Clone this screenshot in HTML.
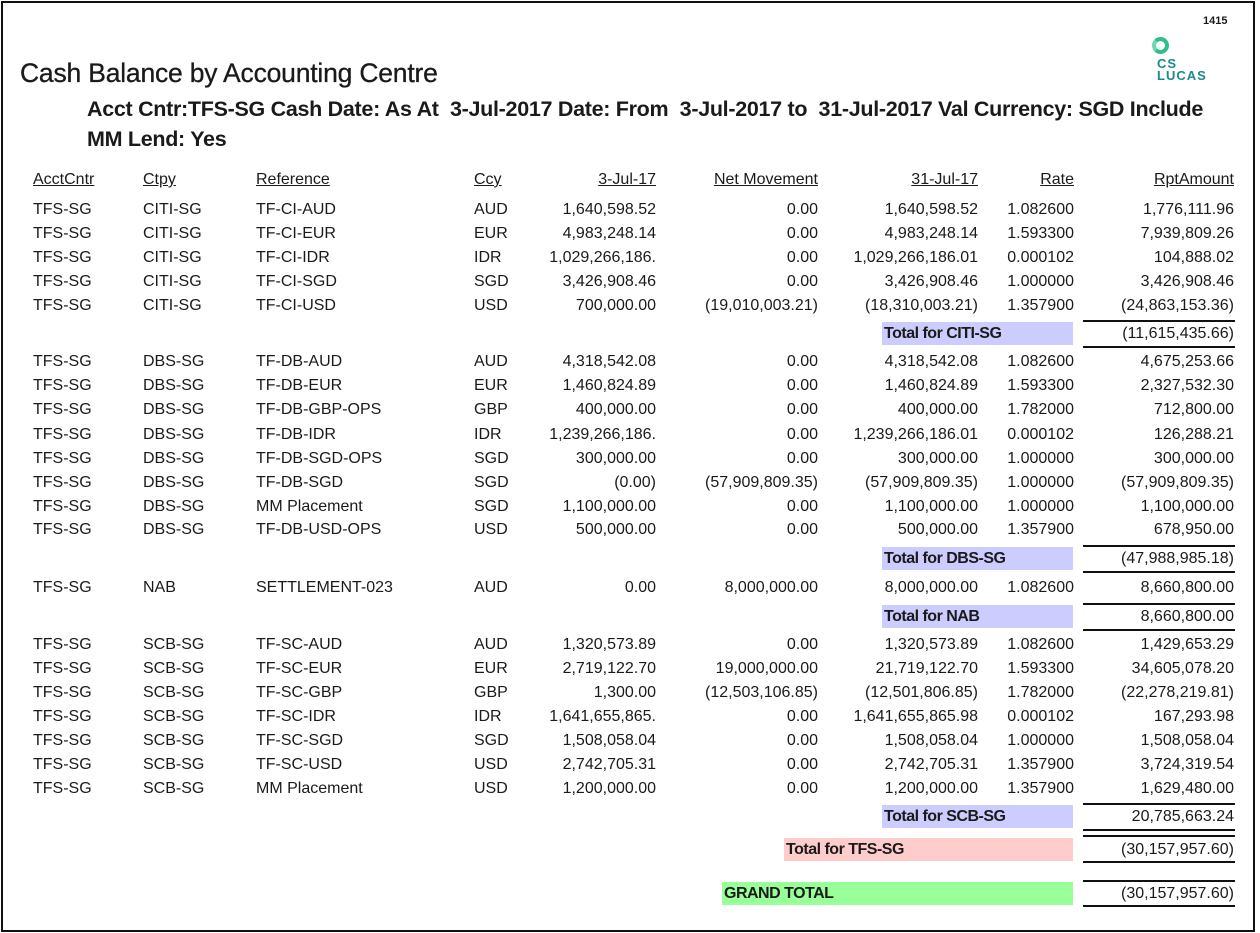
<!DOCTYPE html>
<html><head><meta charset="utf-8"><style>
body{margin:0;width:1260px;height:933px;background:#fff;position:relative;overflow:hidden;font-family:"Liberation Sans",Arial,sans-serif;color:#1a1a1a}
.frame{position:absolute;left:1px;top:1px;width:1250px;height:927px;border:2px solid #111}
.r{position:absolute;left:0;width:1260px;height:20px;font-size:16px;line-height:20px}
.r span{position:absolute;white-space:nowrap}
.a{left:33px}.b{left:143px}.c{left:256px}.d{left:474px}
.e{right:604px}.f{right:442px}.g{right:282px}.h{right:186px}.i{right:26px}
.hd span{text-decoration:underline}
.box{position:absolute;height:23px;font-weight:bold;font-size:16px;line-height:23px;letter-spacing:-0.5px;padding-left:2px;box-sizing:border-box}
.ln{position:absolute;left:1083px;width:152px;height:2px;background:#111}
.amt{position:absolute;right:26px;font-size:16px;line-height:20px}
</style></head><body>
<div class="frame"></div>
<div style="position:absolute;left:1203px;top:15px;font-size:11px;font-weight:bold">1415</div>
<div style="position:absolute;left:1152px;top:37px;width:9px;height:9px;border:4px solid #2fbf8a;border-radius:50%;border-left-color:#6fd8b0"></div>
<div style="position:absolute;left:1157px;top:58px;font-size:13px;font-weight:bold;color:#1a8a8a;line-height:12px;letter-spacing:1px">CS<br>LUCAS</div>
<div style="position:absolute;left:20px;top:58px;font-size:26.5px;letter-spacing:-0.2px;-webkit-text-stroke:0.3px #1a1a1a">Cash Balance by Accounting Centre</div>
<div style="position:absolute;left:87px;top:94px;font-size:21.5px;font-weight:bold;line-height:30px;letter-spacing:-0.3px;white-space:pre">Acct Cntr:TFS-SG Cash Date: As At  3-Jul-2017 Date: From  3-Jul-2017 to  31-Jul-2017 Val Currency: SGD Include
MM Lend: Yes</div>

<div class="r hd" style="top:170px"><span class="a">AcctCntr</span><span class="b">Ctpy</span><span class="c">Reference</span><span class="d">Ccy</span><span class="e">3-Jul-17</span><span class="f">Net Movement</span><span class="g">31-Jul-17</span><span class="h">Rate</span><span class="i">RptAmount</span></div>

<div class="r" style="top:200px"><span class="a">TFS-SG</span><span class="b">CITI-SG</span><span class="c">TF-CI-AUD</span><span class="d">AUD</span><span class="e">1,640,598.52</span><span class="f">0.00</span><span class="g">1,640,598.52</span><span class="h">1.082600</span><span class="i">1,776,111.96</span></div>
<div class="r" style="top:224px"><span class="a">TFS-SG</span><span class="b">CITI-SG</span><span class="c">TF-CI-EUR</span><span class="d">EUR</span><span class="e">4,983,248.14</span><span class="f">0.00</span><span class="g">4,983,248.14</span><span class="h">1.593300</span><span class="i">7,939,809.26</span></div>
<div class="r" style="top:248px"><span class="a">TFS-SG</span><span class="b">CITI-SG</span><span class="c">TF-CI-IDR</span><span class="d">IDR</span><span class="e">1,029,266,186.</span><span class="f">0.00</span><span class="g">1,029,266,186.01</span><span class="h">0.000102</span><span class="i">104,888.02</span></div>
<div class="r" style="top:272px"><span class="a">TFS-SG</span><span class="b">CITI-SG</span><span class="c">TF-CI-SGD</span><span class="d">SGD</span><span class="e">3,426,908.46</span><span class="f">0.00</span><span class="g">3,426,908.46</span><span class="h">1.000000</span><span class="i">3,426,908.46</span></div>
<div class="r" style="top:296px"><span class="a">TFS-SG</span><span class="b">CITI-SG</span><span class="c">TF-CI-USD</span><span class="d">USD</span><span class="e">700,000.00</span><span class="f">(19,010,003.21)</span><span class="g">(18,310,003.21)</span><span class="h">1.357900</span><span class="i">(24,863,153.36)</span></div>
<div class="box" style="left:882px;top:322px;width:191px;background:#ccccff">Total for CITI-SG</div>
<div class="ln" style="top:320px"></div><div class="amt" style="top:324px">(11,615,435.66)</div><div class="ln" style="top:346px"></div>

<div class="r" style="top:352px"><span class="a">TFS-SG</span><span class="b">DBS-SG</span><span class="c">TF-DB-AUD</span><span class="d">AUD</span><span class="e">4,318,542.08</span><span class="f">0.00</span><span class="g">4,318,542.08</span><span class="h">1.082600</span><span class="i">4,675,253.66</span></div>
<div class="r" style="top:376px"><span class="a">TFS-SG</span><span class="b">DBS-SG</span><span class="c">TF-DB-EUR</span><span class="d">EUR</span><span class="e">1,460,824.89</span><span class="f">0.00</span><span class="g">1,460,824.89</span><span class="h">1.593300</span><span class="i">2,327,532.30</span></div>
<div class="r" style="top:400px"><span class="a">TFS-SG</span><span class="b">DBS-SG</span><span class="c">TF-DB-GBP-OPS</span><span class="d">GBP</span><span class="e">400,000.00</span><span class="f">0.00</span><span class="g">400,000.00</span><span class="h">1.782000</span><span class="i">712,800.00</span></div>
<div class="r" style="top:425px"><span class="a">TFS-SG</span><span class="b">DBS-SG</span><span class="c">TF-DB-IDR</span><span class="d">IDR</span><span class="e">1,239,266,186.</span><span class="f">0.00</span><span class="g">1,239,266,186.01</span><span class="h">0.000102</span><span class="i">126,288.21</span></div>
<div class="r" style="top:449px"><span class="a">TFS-SG</span><span class="b">DBS-SG</span><span class="c">TF-DB-SGD-OPS</span><span class="d">SGD</span><span class="e">300,000.00</span><span class="f">0.00</span><span class="g">300,000.00</span><span class="h">1.000000</span><span class="i">300,000.00</span></div>
<div class="r" style="top:473px"><span class="a">TFS-SG</span><span class="b">DBS-SG</span><span class="c">TF-DB-SGD</span><span class="d">SGD</span><span class="e">(0.00)</span><span class="f">(57,909,809.35)</span><span class="g">(57,909,809.35)</span><span class="h">1.000000</span><span class="i">(57,909,809.35)</span></div>
<div class="r" style="top:497px"><span class="a">TFS-SG</span><span class="b">DBS-SG</span><span class="c">MM Placement</span><span class="d">SGD</span><span class="e">1,100,000.00</span><span class="f">0.00</span><span class="g">1,100,000.00</span><span class="h">1.000000</span><span class="i">1,100,000.00</span></div>
<div class="r" style="top:520px"><span class="a">TFS-SG</span><span class="b">DBS-SG</span><span class="c">TF-DB-USD-OPS</span><span class="d">USD</span><span class="e">500,000.00</span><span class="f">0.00</span><span class="g">500,000.00</span><span class="h">1.357900</span><span class="i">678,950.00</span></div>
<div class="box" style="left:882px;top:547px;width:191px;background:#ccccff">Total for DBS-SG</div>
<div class="ln" style="top:545px"></div><div class="amt" style="top:549px">(47,988,985.18)</div><div class="ln" style="top:571px"></div>

<div class="r" style="top:578px"><span class="a">TFS-SG</span><span class="b">NAB</span><span class="c">SETTLEMENT-023</span><span class="d">AUD</span><span class="e">0.00</span><span class="f">8,000,000.00</span><span class="g">8,000,000.00</span><span class="h">1.082600</span><span class="i">8,660,800.00</span></div>
<div class="box" style="left:882px;top:605px;width:191px;background:#ccccff">Total for NAB</div>
<div class="ln" style="top:603px"></div><div class="amt" style="top:607px">8,660,800.00</div><div class="ln" style="top:629px"></div>

<div class="r" style="top:635px"><span class="a">TFS-SG</span><span class="b">SCB-SG</span><span class="c">TF-SC-AUD</span><span class="d">AUD</span><span class="e">1,320,573.89</span><span class="f">0.00</span><span class="g">1,320,573.89</span><span class="h">1.082600</span><span class="i">1,429,653.29</span></div>
<div class="r" style="top:659px"><span class="a">TFS-SG</span><span class="b">SCB-SG</span><span class="c">TF-SC-EUR</span><span class="d">EUR</span><span class="e">2,719,122.70</span><span class="f">19,000,000.00</span><span class="g">21,719,122.70</span><span class="h">1.593300</span><span class="i">34,605,078.20</span></div>
<div class="r" style="top:683px"><span class="a">TFS-SG</span><span class="b">SCB-SG</span><span class="c">TF-SC-GBP</span><span class="d">GBP</span><span class="e">1,300.00</span><span class="f">(12,503,106.85)</span><span class="g">(12,501,806.85)</span><span class="h">1.782000</span><span class="i">(22,278,219.81)</span></div>
<div class="r" style="top:707px"><span class="a">TFS-SG</span><span class="b">SCB-SG</span><span class="c">TF-SC-IDR</span><span class="d">IDR</span><span class="e">1,641,655,865.</span><span class="f">0.00</span><span class="g">1,641,655,865.98</span><span class="h">0.000102</span><span class="i">167,293.98</span></div>
<div class="r" style="top:731px"><span class="a">TFS-SG</span><span class="b">SCB-SG</span><span class="c">TF-SC-SGD</span><span class="d">SGD</span><span class="e">1,508,058.04</span><span class="f">0.00</span><span class="g">1,508,058.04</span><span class="h">1.000000</span><span class="i">1,508,058.04</span></div>
<div class="r" style="top:755px"><span class="a">TFS-SG</span><span class="b">SCB-SG</span><span class="c">TF-SC-USD</span><span class="d">USD</span><span class="e">2,742,705.31</span><span class="f">0.00</span><span class="g">2,742,705.31</span><span class="h">1.357900</span><span class="i">3,724,319.54</span></div>
<div class="r" style="top:779px"><span class="a">TFS-SG</span><span class="b">SCB-SG</span><span class="c">MM Placement</span><span class="d">USD</span><span class="e">1,200,000.00</span><span class="f">0.00</span><span class="g">1,200,000.00</span><span class="h">1.357900</span><span class="i">1,629,480.00</span></div>
<div class="box" style="left:882px;top:805px;width:191px;background:#ccccff">Total for SCB-SG</div>
<div class="ln" style="top:803px"></div><div class="amt" style="top:807px">20,785,663.24</div><div class="ln" style="top:829px"></div>

<div class="box" style="left:784px;top:838px;width:289px;background:#ffcccc">Total for TFS-SG</div>
<div class="ln" style="top:835px"></div><div class="amt" style="top:840px">(30,157,957.60)</div><div class="ln" style="top:861px"></div>

<div class="box" style="left:722px;top:882px;width:351px;background:#99ff99">GRAND TOTAL</div>
<div class="ln" style="top:880px"></div><div class="amt" style="top:884px">(30,157,957.60)</div><div class="ln" style="top:905px"></div>
</body></html>
